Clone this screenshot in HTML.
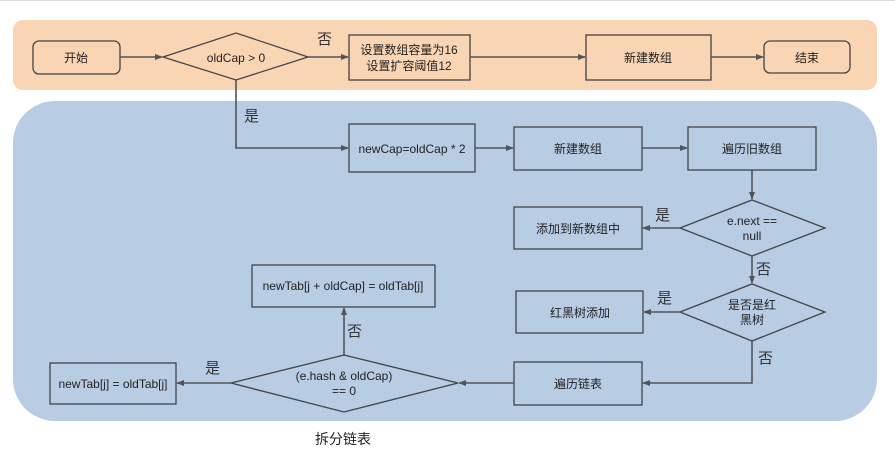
<!DOCTYPE html>
<html><head><meta charset="utf-8"><style>
body{margin:0;background:#fff;}
svg text{font-family:"Liberation Sans","Noto Sans CJK SC",sans-serif;font-size:12px;fill:#222;}
.l{font-size:15px;fill:#333;}
</style></head><body>
<svg width="895" height="468" viewBox="0 0 895 468">
<defs><marker id="a" markerWidth="8" markerHeight="8" refX="7" refY="4" orient="auto" markerUnits="userSpaceOnUse"><path d="M0,1 L8,4 L0,7z" fill="#505558"/></marker></defs>
<line x1="0" y1="0.5" x2="895" y2="0.5" stroke="#ddd"/>
<rect x="13" y="20" width="864" height="70" rx="10" fill="#fad5b4"/>
<rect x="13" y="101" width="864" height="320" rx="42" fill="#b8cce4"/>
<g stroke="#404448" stroke-width="1.3" fill="none">
<rect x="33" y="41" width="87" height="33" rx="6"/>
<polygon points="163,57 236,33 308,57 236,80"/>
<rect x="349" y="35" width="121" height="45"/>
<rect x="586" y="35" width="125" height="45"/>
<rect x="764" y="41" width="86" height="32" rx="6"/>
<rect x="349" y="124" width="126" height="48"/>
<rect x="514" y="127" width="128" height="43"/>
<rect x="688" y="127" width="128" height="43"/>
<polygon points="680,228 752,200 825,228 752,256"/>
<rect x="514" y="207" width="128" height="42"/>
<polygon points="680,312 752,284 825,312 752,341"/>
<rect x="516" y="291" width="127" height="42"/>
<rect x="514" y="362" width="128" height="43"/>
<polygon points="231,383 344,355 458,383 344,412"/>
<rect x="50" y="363" width="126" height="41"/>
<rect x="252" y="265" width="183" height="42"/>
</g>
<g stroke="#505558" stroke-width="1.6" fill="none" marker-end="url(#a)">
<line x1="120" y1="57" x2="162" y2="57"/>
<line x1="308" y1="57" x2="348" y2="57"/>
<line x1="470" y1="57" x2="585" y2="57"/>
<line x1="711" y1="57" x2="763" y2="57"/>
<polyline points="236,80 236,148 348,148"/>
<line x1="475" y1="148" x2="513" y2="148"/>
<line x1="642" y1="148" x2="687" y2="148"/>
<line x1="752" y1="170" x2="752" y2="199"/>
<line x1="680" y1="228" x2="643" y2="228"/>
<line x1="752" y1="256" x2="752" y2="283"/>
<line x1="680" y1="312" x2="644" y2="312"/>
<polyline points="752,341 752,383 643,383"/>
<line x1="514" y1="383" x2="459" y2="383"/>
<line x1="231" y1="383" x2="177" y2="383"/>
<line x1="344" y1="355" x2="344" y2="308"/>
</g>
<g text-anchor="middle">
<text x="76" y="62">开始</text>
<text x="236" y="62">oldCap &gt; 0</text>
<text x="409" y="54">设置数组容量为16</text>
<text x="409" y="70">设置扩容阈值12</text>
<text x="648" y="62">新建数组</text>
<text x="807" y="62">结束</text>
<text x="412" y="153">newCap=oldCap * 2</text>
<text x="578" y="153">新建数组</text>
<text x="752" y="153">遍历旧数组</text>
<text x="752" y="225">e.next ==</text>
<text x="752" y="240">null</text>
<text x="578" y="233">添加到新数组中</text>
<text x="752" y="309">是否是红</text>
<text x="752" y="324">黑树</text>
<text x="580" y="317">红黑树添加</text>
<text x="578" y="388">遍历链表</text>
<text x="344" y="380">(e.hash &amp; oldCap)</text>
<text x="344" y="395">== 0</text>
<text x="113" y="388">newTab[j] = oldTab[j]</text>
<text x="343" y="290">newTab[j + oldCap] = oldTab[j]</text>
<text x="343" y="444" style="font-size:14px">拆分链表</text>
</g>
<text class="l" x="317" y="44">否</text>
<text class="l" x="244" y="121">是</text>
<text class="l" x="655" y="220">是</text>
<text class="l" x="756" y="274">否</text>
<text class="l" x="657" y="303">是</text>
<text class="l" x="758" y="363">否</text>
<text class="l" x="205" y="373">是</text>
<text class="l" x="347" y="336">否</text>
</svg>
</body></html>
